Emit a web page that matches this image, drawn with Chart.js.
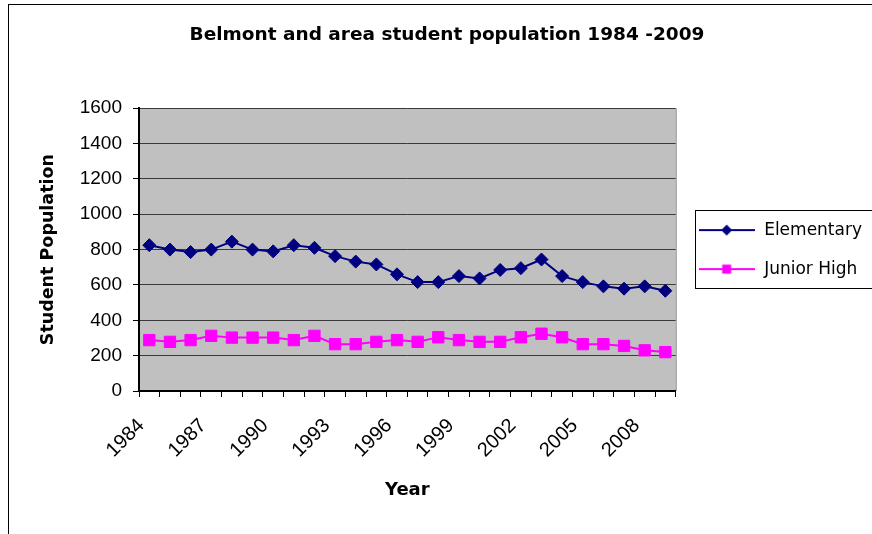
<!DOCTYPE html>
<html>
<head>
<meta charset="utf-8">
<script src="https://cdn.jsdelivr.net/npm/chart.js@4"></script>
<style>
  html, body { margin: 0; padding: 0; background: #fff; }
  #wrap { width: 872px; height: 534px; }
</style>
</head>
<body>
<div id="wrap"><canvas id="popChart" width="872" height="534"></canvas></div>
<script>
// data
const years = ['1984', '1985', '1986', '1987', '1988', '1989', '1990', '1991', '1992',
  '1993', '1994', '1995', '1996', '1997', '1998', '1999', '2000', '2001', '2002',
  '2003', '2004', '2005', '2006', '2007', '2008', '2009'];
const elementary = [825, 800, 786, 800, 845, 800, 790, 825, 810, 763, 732, 716, 660,
  616, 616, 650, 637, 685, 695, 744, 650, 616, 592, 579, 592, 567];
const juniorHigh = [288, 278, 288, 312, 302, 302, 302, 288, 312, 265, 265, 278, 288,
  278, 304, 288, 278, 278, 304, 324, 304, 265, 265, 255, 230, 220];
const yTicks = [0, 200, 400, 600, 800, 1000, 1200, 1400, 1600];

const navy = '#000080';
const magenta = '#FF00FF';

// small picture for the legend: line with marker in the middle
function legendSymbol(color, shape) {
    const c = document.createElement('canvas');
    c.width = 56;
    c.height = 16;
    const ctx = c.getContext('2d');
    ctx.strokeStyle = color;
    ctx.fillStyle = color;
    ctx.lineWidth = 2;
    ctx.beginPath();
    ctx.moveTo(0, 8);
    ctx.lineTo(56, 8);
    ctx.stroke();
    ctx.beginPath();
    if (shape === 'diamond') {
        ctx.moveTo(28, 2.5);
        ctx.lineTo(33.5, 8);
        ctx.lineTo(28, 13.5);
        ctx.lineTo(22.5, 8);
        ctx.closePath();
    } else {
        ctx.rect(23.5, 3.5, 9, 9);
    }
    ctx.fill();
    return c;
}

// white page, outer frame, grey plot area
const framePlugin = {
    id: 'frame',
    beforeDraw(chart) {
        const ctx = chart.ctx;
        const a = chart.chartArea;
        ctx.save();
        ctx.fillStyle = '#fff';
        ctx.fillRect(0, 0, chart.width, chart.height);
        ctx.strokeStyle = '#000';
        ctx.lineWidth = 1;
        ctx.strokeRect(8.5, 4.5, 950, 650);
        ctx.fillStyle = '#C0C0C0';
        ctx.fillRect(a.left, a.top, a.right - a.left, a.bottom - a.top);
        ctx.strokeStyle = '#808080';
        ctx.beginPath();
        ctx.moveTo(a.right + 0.5, a.top);
        ctx.lineTo(a.right + 0.5, a.bottom);
        ctx.stroke();
        ctx.restore();
    },
    afterDraw(chart) {
        // border round the legend
        const boxes = chart.legend.legendHitBoxes;
        if (!boxes.length) return;
        const ctx = chart.ctx;
        const first = boxes[0];
        const last = boxes[boxes.length - 1];
        ctx.save();
        ctx.strokeStyle = '#000';
        ctx.lineWidth = 1;
        const top = Math.round(first.top) - 11.5;
        const bottom = Math.round(last.top + last.height) + 10.5;
        ctx.strokeRect(695.5, top, 300, bottom - top);
        ctx.restore();
    }
};

const config = {
    type: 'line',
    data: {
        labels: years,
        datasets: [{
            label: 'Elementary',
            data: elementary,
            borderColor: navy,
            backgroundColor: navy,
            borderWidth: 2,
            pointStyle: 'rectRot',
            pointRadius: 6.5,
            pointBorderWidth: 1,
            tension: 0
        }, {
            label: 'Junior High',
            data: juniorHigh,
            borderColor: magenta,
            backgroundColor: magenta,
            borderWidth: 2,
            pointStyle: 'rect',
            pointRadius: 8,
            pointBorderWidth: 1,
            tension: 0
        }]
    },
    options: {
        responsive: false,
        animation: false,
        events: [],
        layout: {
            padding: { left: 22, top: 0, right: 0, bottom: 0 }
        },
        plugins: {
            title: {
                display: true,
                text: 'Belmont and area student population 1984 -2009',
                color: '#000',
                font: { family: 'DejaVu Sans', size: 18.5, weight: 'bold', lineHeight: 1.2 },
                padding: { top: 24, bottom: 62 }
            },
            legend: {
                display: true,
                position: 'right',
                fullSize: false,
                align: 'center',
                labels: {
                    color: '#000',
                    font: { family: 'DejaVu Sans', size: 17 },
                    usePointStyle: true,
                    pointStyleWidth: 58,
                    padding: 22,
                    generateLabels(chart) {
                        return chart.data.datasets.map((ds, i) => ({
                            text: ds.label,
                            pointStyle: legendSymbol(ds.borderColor, i === 0 ? 'diamond' : 'square'),
                            fillStyle: ds.borderColor,
                            strokeStyle: ds.borderColor,
                            lineWidth: 0,
                            hidden: false,
                            datasetIndex: i
                        }));
                    }
                }
            },
            tooltip: { enabled: false }
        },
        scales: {
            x: {
                type: 'category',
                offset: true,
                grid: {
                    offset: true,
                    drawOnChartArea: false,
                    drawTicks: true,
                    tickLength: 6,
                    tickColor: '#000'
                },
                border: { color: '#000', width: 2 },
                ticks: {
                    autoSkip: false,
                    maxRotation: 45,
                    minRotation: 45,
                    color: '#000',
                    padding: 17,
                    labelOffset: -8,
                    font: { family: 'Liberation Sans', size: 20 },
                    callback(value, index) {
                        return index % 3 === 0 ? years[index] : '';
                    }
                },
                title: {
                    display: true,
                    text: 'Year',
                    color: '#000',
                    font: { family: 'DejaVu Sans', size: 18, weight: 'bold', lineHeight: 1.2 },
                    padding: { top: 0, bottom: 33 }
                },
                afterFit(scale) {
                    scale.height = 143;
                }
            },
            y: {
                min: 0,
                max: 1600,
                afterBuildTicks(scale) {
                    scale.ticks = yTicks.map(v => ({ value: v }));
                },
                grid: {
                    color: '#3a3a3a',
                    lineWidth: 1,
                    drawTicks: true,
                    tickLength: 6,
                    tickColor: '#000'
                },
                border: { color: '#000', width: 2 },
                ticks: {
                    color: '#000',
                    padding: 11,
                    font: { family: 'Liberation Sans', size: 19 },
                    callback(value) {
                        return String(value);
                    }
                },
                title: {
                    display: true,
                    text: 'Student Population',
                    color: '#000',
                    font: { family: 'DejaVu Sans', size: 17.5, weight: 'bold', lineHeight: 1.2 },
                    padding: { top: 16, bottom: 0 }
                },
                afterFit(scale) {
                    scale.width = 117;
                }
            }
        }
    },
    plugins: [framePlugin]
};

document.addEventListener('DOMContentLoaded', function () {
    const ctx = document.getElementById('popChart').getContext('2d');
    new Chart(ctx, config);
});
</script>
</body>
</html>
